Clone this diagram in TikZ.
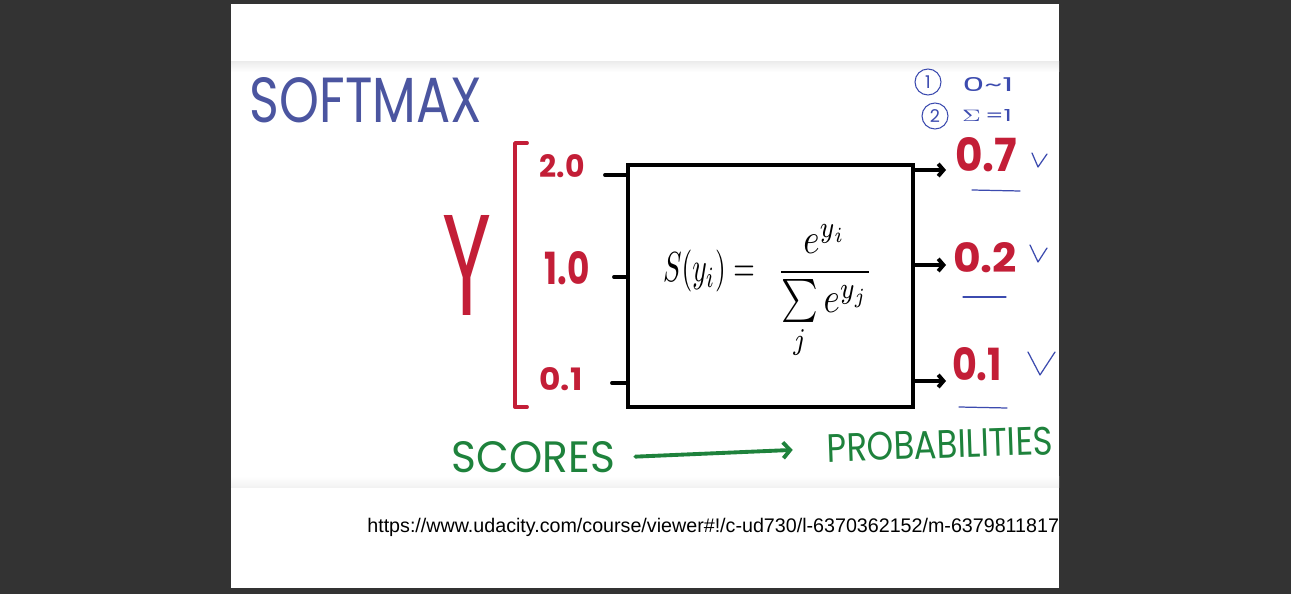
\documentclass[tikz,border=0pt]{standalone}
\usepackage{fontspec}
\usepackage{amsmath}
\usepackage{graphicx}
\usepackage{xcolor}
\usetikzlibrary{arrows.meta,positioning}

\newfontfamily\hand{Poppins}
\newfontfamily\urlfont{Liberation Sans}
\newlength{\pxu}\setlength{\pxu}{0.02cm}
\newcommand{\fitin}[3]{\resizebox{#1\pxu}{#2\pxu}{#3}}

\definecolor{bgdark}{HTML}{333333}
\definecolor{titleblue}{RGB}{75,85,160}
\definecolor{noteblue}{RGB}{60,75,175}
\definecolor{markred}{RGB}{195,30,55}
\definecolor{markgreen}{RGB}{30,130,60}

\begin{document}
\begin{tikzpicture}[x=0.02cm, y=-0.02cm,
    hand/.style={inner sep=0pt, font=\hand},
    redtxt/.style={inner sep=0pt, font=\hand\bfseries, text=markred},
    greentxt/.style={inner sep=0pt, font=\hand, text=markgreen},
    notetxt/.style={hand, text=noteblue},
    notecircle/.style={circle, draw=noteblue, line width=0.6pt, minimum size=26\pxu, inner sep=0pt, text=noteblue, font=\hand},
    bracket/.style={draw=markred, line width=2.2pt, line cap=round, line join=round},
    stub/.style={draw=black, line width=2.2pt, line cap=round},
    outarrow/.style={draw=black, line width=2.2pt, line cap=round, -{Straight Barb[length=3pt,width=7pt]}},
    tickmark/.style={draw=noteblue, line width=0.7pt, line cap=round, line join=round},
    greenarrow/.style={draw=markgreen, line width=2.2pt, line cap=round, -{Straight Barb[length=4pt,width=9pt]}}]

  % page and panel
  \useasboundingbox (0,0) rectangle (1291,594);
  \fill[bgdark] (0,0) rectangle (1291,594);
  \fill[white] (231,4) rectangle (1059,588);
  \shade[top color=black!7, bottom color=white] (231,62) rectangle (1059,72);
  \shade[top color=white, bottom color=black!5] (231,476) rectangle (1059,487);

  % title and notes
  \node[hand, text=titleblue] (title) at (366,100.5) {\fitin{232}{45}{SOFTMAX}};
  \node[notecircle] (one) at (928,82) {1};
  \node[notetxt] (range) at (988,85) {\fitin{51}{14}{0\textasciitilde1}};
  \node[notecircle] (two) at (935,116) {2};
  \node[notetxt] (sumone) at (987,116) {\fitin{50}{12}{$\Sigma$\,=1}};

  % scores
  \node[hand, text=markred] (y) at (467,265) {\fitin{49}{100}{Y}};
  \draw[bracket] (527,143) -- (515,143) -- (515,407) -- (527,407);
  \node[redtxt] (s1) at (562,166) {\fitin{45}{23}{2.0}};
  \node[redtxt] (s2) at (567,268) {\fitin{45}{33}{1.0}};
  \node[redtxt] (s3) at (561,379) {\fitin{43}{23}{0.1}};

  % softmax box
  \node[draw, line width=2.2pt, minimum width=285\pxu, minimum height=242\pxu] (box) at (770.5,286) {};
  \node[inner sep=0pt] (lhs) at (709,271) {\resizebox*{92\pxu}{42\pxu}{$S(y_i)=$}};
  \node[inner sep=0pt] (frac) at (825,292.5)
    {\resizebox*{96\pxu}{135\pxu}{$\dfrac{e^{y_i}}{\sum\limits_j e^{y_j}}$}};

  \coordinate (in1) at (605,175);
  \coordinate (in2) at (614,277);
  \coordinate (in3) at (612,383);
  \foreach \i in {1,2,3}
    \draw[stub] (in\i) -- (in\i -| box.west);

  % probabilities
  \node[redtxt] (p1) at (986,155) {\fitin{62}{34}{0.7}};
  \node[redtxt] (p2) at (985,258) {\fitin{64}{30}{0.2}};
  \node[redtxt] (p3) at (977,364) {\fitin{50}{33}{0.1}};

  \coordinate (o1) at (946,170);
  \coordinate (o2) at (946,265);
  \coordinate (o3) at (946,381);
  \foreach \i in {1,2,3}
    \draw[outarrow] (o\i -| box.east) -- (o\i);

  % checks
  \draw[tickmark] (972,190) -- (1020,191);
  \draw[tickmark] (963,297) -- (1006,297);
  \draw[tickmark] (959,407) -- (1007,408);
  \draw[tickmark] (1032,153) -- (1038,167) -- (1047,154);
  \draw[tickmark] (1030,245) -- (1038,262) -- (1047,248);
  \draw[tickmark] (1028,352) -- (1040,375) -- (1055,352);

  % bottom line
  \node[greentxt] (scores) at (533.5,457.5) {\fitin{163}{31}{SCORES}};
  \node[greentxt, rotate=2] (probs) at (940,444.5) {\fitin{226}{28}{PROBABILITIES}};
  \draw[greenarrow, shorten <=20\pxu, shorten >=34\pxu] (scores.east) -- (probs.west);

  % source link
  \begin{scope}
    \clip (231,4) rectangle (1059,588);
    \node[anchor=base west, inner sep=0pt, font=\urlfont\fontsize{11.2pt}{13pt}\selectfont] (url) at (367,532)
      {https://www.udacity.com/course/viewer\#!/c-ud730/l-6370362152/m-6379811817};
  \end{scope}
\end{tikzpicture}
\end{document}
